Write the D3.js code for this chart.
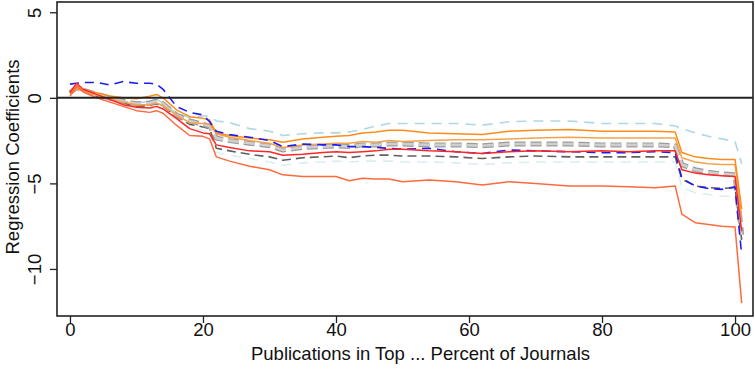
<!DOCTYPE html>
<html>
<head>
<meta charset="utf-8">
<script src="https://cdn.jsdelivr.net/npm/d3@7"></script>
<style>
  body { margin: 0; background: #fff; }
  text { font-family: "Liberation Sans", Arial, sans-serif; }
</style>
</head>
<body>
<div id="chart"></div>
<script>
// Publication thresholds (x) shared by every series
var thresholds = [0,1,2,4,6,8,10,12,13,14,16,18,20,21,22,24,27,30,32,35,38,40,42,44,46,48,50,54,58,62,66,70,75,80,84,88,91,92,94,96,98,100,101];

// Coefficient series
var lightBlueUpper = [0.35,0.55,0.45,0.2,0,-0.2,-0.3,-0.2,-0.1,-0.3,-0.9,-1.15,-1.05,-1.1,-1.35,-1.45,-1.8,-1.95,-2.2,-2.1,-2.05,-2.05,-2.0,-1.85,-1.65,-1.5,-1.5,-1.5,-1.5,-1.6,-1.4,-1.35,-1.35,-1.5,-1.5,-1.5,-1.65,-1.8,-2.05,-2.25,-2.4,-2.55,-3.85];
var orangeUpper = [0.3,0.6,0.45,0.3,0.1,0,-0.05,0.1,0.2,0,-0.7,-1.1,-1.2,-1.3,-2.05,-2.2,-2.35,-2.45,-2.6,-2.4,-2.3,-2.25,-2.2,-2.05,-2.0,-1.9,-1.9,-2.05,-2.1,-2.15,-1.95,-1.9,-1.85,-1.95,-1.95,-1.95,-2.0,-3.2,-3.45,-3.55,-3.6,-3.6,-6.5];
var orangeLower = [0.25,0.5,0.4,0.15,-0.05,-0.25,-0.4,-0.4,-0.3,-0.45,-1.0,-1.45,-1.5,-1.55,-2.1,-2.3,-2.5,-2.65,-2.9,-2.75,-2.7,-2.65,-2.65,-2.55,-2.6,-2.5,-2.55,-2.5,-2.45,-2.45,-2.4,-2.35,-2.3,-2.35,-2.35,-2.35,-2.35,-3.5,-3.75,-3.85,-3.9,-3.9,-7.0];
var grayWide = [0.3,0.6,0.45,0.2,0,-0.2,-0.35,-0.3,-0.2,-0.35,-1.0,-1.35,-1.55,-1.65,-2.35,-2.5,-2.65,-2.8,-3.05,-2.9,-2.85,-2.8,-2.85,-2.75,-2.75,-2.7,-2.7,-2.75,-2.75,-2.8,-2.7,-2.7,-2.7,-2.75,-2.75,-2.75,-2.8,-3.9,-4.2,-4.35,-4.45,-4.5,-8.0];
var blueDashed = [0.8,0.85,0.9,0.9,0.75,0.95,0.85,0.85,0.8,0.5,-0.5,-0.85,-1.0,-1.4,-1.95,-2.15,-2.3,-2.5,-2.85,-2.7,-2.75,-2.75,-2.85,-2.85,-2.9,-2.95,-3.0,-2.95,-3.15,-3.25,-3.05,-3.1,-3.15,-3.2,-3.2,-3.15,-3.2,-4.7,-5.15,-5.3,-5.35,-5.2,-9.2];
var redSolid = [0.3,0.85,0.5,0.2,-0.1,-0.4,-0.55,-0.6,-0.5,-0.65,-1.2,-1.8,-2.05,-2.1,-2.75,-2.9,-3.1,-3.15,-3.35,-3.3,-3.2,-3.15,-3.2,-3.15,-3.1,-3.0,-3.0,-3.1,-3.15,-3.25,-3.15,-3.1,-3.15,-3.1,-3.15,-3.1,-3.1,-4.2,-4.4,-4.5,-4.55,-4.6,-7.8];
var grayDark = [0.3,0.55,0.4,0.1,-0.1,-0.3,-0.5,-0.45,-0.35,-0.5,-1.1,-1.55,-1.7,-1.8,-2.95,-3.1,-3.3,-3.45,-3.65,-3.5,-3.45,-3.4,-3.5,-3.4,-3.35,-3.35,-3.4,-3.4,-3.45,-3.55,-3.45,-3.4,-3.45,-3.45,-3.45,-3.45,-3.45,-4.75,-5.15,-5.25,-5.3,-5.25,-8.3];
var lightBlueLower = [0.25,0.45,0.3,0,-0.2,-0.45,-0.65,-0.65,-0.55,-0.75,-1.3,-1.75,-1.9,-2.0,-3.2,-3.35,-3.55,-3.75,-3.95,-3.8,-3.75,-3.7,-3.75,-3.7,-3.7,-3.7,-3.75,-3.75,-3.8,-3.9,-3.8,-3.75,-3.75,-3.75,-3.75,-3.75,-3.75,-5.2,-5.55,-5.65,-5.75,-5.75,-8.6];
var tomatoSolid = [0.1,0.7,0.35,0,-0.25,-0.5,-0.75,-0.85,-0.75,-0.9,-1.6,-2.2,-2.25,-2.4,-3.45,-3.7,-4.0,-4.2,-4.5,-4.6,-4.6,-4.6,-4.85,-4.7,-4.75,-4.75,-4.9,-4.8,-4.9,-5.1,-4.9,-5.0,-5.15,-5.15,-5.2,-5.25,-5.15,-6.8,-7.3,-7.4,-7.5,-7.55,-12.0];

var xTicks = [0, 20, 40, 60, 80, 100];
var yTicks = [5, 0, -5, -10];

var W = 755, H = 369;
var plot = {left: 57, right: 753, top: 2, bottom: 316};
var fontSize = "18.5px";

var svg = d3.select("#chart").append("svg")
    .attr("width", W)
    .attr("height", H);

var x = d3.scaleLinear().domain([-1.95, 102.7]).range([plot.left, plot.right]);
var y = d3.scaleLinear().domain([-12.75, 5.6]).range([plot.bottom, plot.top]);

// Series styles, drawn in this order
var series = [
  {v: lightBlueLower, color: "#dcedf1", w: 1.6, dash: "10,7"},
  {v: lightBlueUpper, color: "#add8e6", w: 1.6, dash: "10,7"},
  {v: grayDark,       color: "#606060", w: 1.6, dash: "9,5"},
  {v: grayWide,       color: "#9c9c9c", w: 5,   dash: "11,5"},
  {v: grayWide,       color: "#cfcfcf", w: 2.6, dash: "11,5"},
  {v: orangeLower,    color: "#f5a24c", w: 1.5, dash: null},
  {v: orangeUpper,    color: "#ff8c1a", w: 1.5, dash: null},
  {v: blueDashed,     color: "#1c1cf0", w: 1.6, dash: "9,6"},
  {v: redSolid,       color: "#ff2626", w: 1.5, dash: null},
  {v: tomatoSolid,    color: "#ff6a3d", w: 1.5, dash: null}
];

var line = d3.line()
    .x(function(d, i) { return x(thresholds[i]); })
    .y(function(d) { return y(d); });

svg.selectAll("path.series")
    .data(series)
    .enter()
    .append("path")
    .attr("class", "series")
    .attr("d", function(s) { return line(s.v); })
    .attr("fill", "none")
    .attr("stroke", function(s) { return s.color; })
    .attr("stroke-width", function(s) { return s.w; })
    .attr("stroke-dasharray", function(s) { return s.dash; })
    .attr("stroke-linejoin", "round");

// Zero reference line
svg.append("line")
    .attr("x1", plot.left).attr("x2", plot.right)
    .attr("y1", y(0)).attr("y2", y(0))
    .attr("stroke", "#222")
    .attr("stroke-width", 2);

// Plot frame
svg.append("rect")
    .attr("x", plot.left).attr("y", plot.top)
    .attr("width", plot.right - plot.left)
    .attr("height", plot.bottom - plot.top)
    .attr("fill", "none")
    .attr("stroke", "#222")
    .attr("stroke-width", 1.6);

// X axis
var xAxis = svg.append("g")
    .attr("transform", "translate(0," + plot.bottom + ")")
    .call(d3.axisBottom(x).tickValues(xTicks).tickSize(7).tickFormat(d3.format("d")));
xAxis.select(".domain").remove();
xAxis.selectAll("line").attr("stroke", "#222").attr("stroke-width", 1.3);
xAxis.selectAll("text")
    .style("font-size", fontSize).attr("fill", "#111")
    .attr("font-family", "Liberation Sans, Arial, sans-serif")
    .attr("y", 20).attr("dy", null);

// Y axis with labels parallel to the axis
var yAxis = svg.append("g")
    .attr("transform", "translate(" + plot.left + ",0)")
    .call(d3.axisLeft(y).tickValues(yTicks).tickSize(7).tickFormat(function(d) { return d < 0 ? "\u2212" + (-d) : d; }));
yAxis.select(".domain").remove();
yAxis.selectAll("line").attr("stroke", "#222").attr("stroke-width", 1.3);
yAxis.selectAll("text")
    .style("font-size", fontSize).attr("fill", "#111")
    .attr("font-family", "Liberation Sans, Arial, sans-serif")
    .attr("x", null).attr("dy", null)
    .attr("text-anchor", "middle")
    .attr("transform", "translate(-16,0) rotate(-90)");

// Axis titles
svg.append("text")
    .attr("x", (x(0) + x(100)) / 2 + 18)
    .attr("y", 360)
    .attr("text-anchor", "middle")
    .style("font-size", fontSize)
    .attr("fill", "#111")
    .text("Publications in Top ... Percent of Journals");

svg.append("text")
    .attr("transform", "translate(19,157) rotate(-90)")
    .attr("text-anchor", "middle")
    .style("font-size", fontSize)
    .attr("fill", "#111")
    .text("Regression Coefficients");
</script>
</body>
</html>
